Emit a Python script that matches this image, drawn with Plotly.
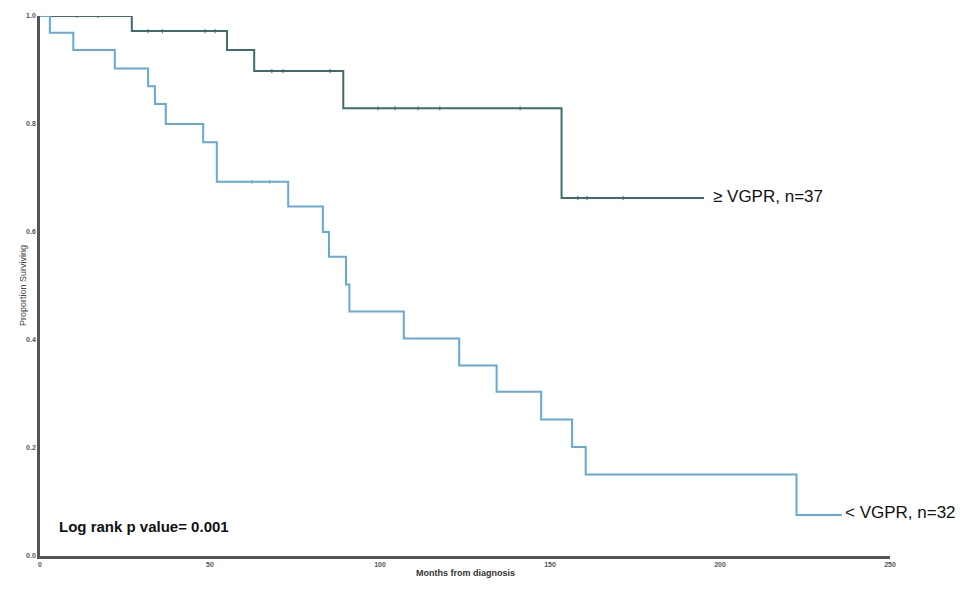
import plotly.graph_objects as go

# ≥ VGPR group (n=37)
hi_time = [0, 27, 55, 63, 89.2, 153.4, 195.3]
hi_surv = [1.0, 0.972, 0.937, 0.898, 0.829, 0.663, 0.663]
hi_cens_time = [10.9, 17.0, 31.8, 36.0, 48.5, 51.5, 68.2, 71.5, 85.3, 99.4, 104.4, 111.2, 117.6, 141.2, 158.2, 160.9, 171.5]
hi_cens_surv = [1.0, 1.0, 0.972, 0.972, 0.972, 0.972, 0.898, 0.898, 0.898, 0.829, 0.829, 0.829, 0.829, 0.829, 0.663, 0.663, 0.663]

# < VGPR group (n=32)
lo_time = [0, 2.9, 9.8, 22, 31.8, 33.8, 37, 48, 52, 73, 83.2, 85, 90, 91, 107, 123.3, 134.3, 147.4, 156.5, 160.5, 222.5, 235.8]
lo_surv = [1.0, 0.969, 0.937, 0.903, 0.870, 0.837, 0.80, 0.766, 0.693, 0.647, 0.60, 0.554, 0.503, 0.453, 0.403, 0.353, 0.304, 0.253, 0.202, 0.151, 0.076, 0.076]
lo_cens_time = [62.3, 67.6]
lo_cens_surv = [0.693, 0.693]

x_ticks = [0, 50, 100, 150, 200, 250]
y_ticks = [0.0, 0.2, 0.4, 0.6, 0.8, 1.0]
y_ticklabels = ["0.0", "0.2", "0.4", "0.6", "0.8", "1.0"]

hi_color = "#3d6d6d"
lo_color = "#65a9d4"
FONT = "Arial, Liberation Sans, sans-serif"

fig = go.Figure()
fig.add_trace(go.Scatter(x=hi_time, y=hi_surv, mode="lines", line=dict(color=hi_color, width=2, shape="hv"), showlegend=False))
fig.add_trace(go.Scatter(x=hi_cens_time, y=hi_cens_surv, mode="markers",
                         marker=dict(symbol="line-ns", size=3, line=dict(color=hi_color, width=1)), showlegend=False))
fig.add_trace(go.Scatter(x=lo_time, y=lo_surv, mode="lines", line=dict(color=lo_color, width=2, shape="hv"), showlegend=False))
fig.add_trace(go.Scatter(x=lo_cens_time, y=lo_cens_surv, mode="markers",
                         marker=dict(symbol="line-ns", size=3, line=dict(color=lo_color, width=1)), showlegend=False))

fig.add_annotation(x=hi_time[-1], y=hi_surv[-1], xref="x", yref="y", text="≥ VGPR, n=37",
                   showarrow=False, xanchor="left", xshift=7, yshift=1,
                   font=dict(family=FONT, size=17, color="#111"))
fig.add_annotation(x=lo_time[-1], y=lo_surv[-1], xref="x", yref="y", text="< VGPR, n=32",
                   showarrow=False, xanchor="left", xshift=1, yshift=2,
                   font=dict(family=FONT, size=17, color="#111"))
fig.add_annotation(x=5, y=0.055, xref="x", yref="y", text="<b>Log rank p value= 0.001</b>",
                   showarrow=False, xanchor="left",
                   font=dict(family=FONT, size=15, color="#111"))

# axis titles
fig.add_annotation(x=0, y=0.5, xref="paper", yref="paper", text="Proportion Surviving",
                   showarrow=False, textangle=-90, xshift=-24,
                   font=dict(family=FONT, size=9, color="#444"))
fig.add_annotation(x=0.5, y=0, xref="paper", yref="paper", text="<b>Months from diagnosis</b>",
                   showarrow=False, yshift=-24,
                   font=dict(family=FONT, size=9, color="#333"))

fig.update_xaxes(range=[0, 250], tickvals=x_ticks, showgrid=False, zeroline=False, automargin=False,
                 showline=True, linecolor="#555", linewidth=2.5, ticks="",
                 tickfont=dict(family=FONT, size=7, color="#555", weight="bold"))
fig.update_yaxes(range=[0, 1], tickvals=y_ticks, ticktext=y_ticklabels, showgrid=False, zeroline=False, automargin=False,
                 showline=True, linecolor="#555", linewidth=2.5, ticks="",
                 tickfont=dict(family=FONT, size=7, color="#555", weight="bold"))

fig.update_layout(width=948, height=573, plot_bgcolor="white", paper_bgcolor="white",
                  margin=dict(l=32, r=66, t=8, b=25))

fig.write_html("out.html")
